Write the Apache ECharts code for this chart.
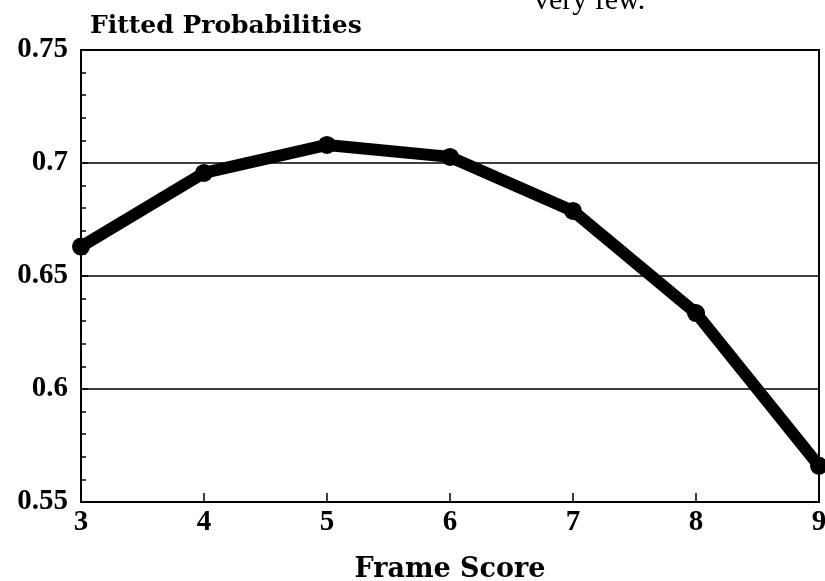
<!DOCTYPE html>
<html>
<head>
<meta charset="utf-8">
<script src="https://cdn.jsdelivr.net/npm/echarts@6/dist/echarts.min.js"></script>
<style>
    html, body { margin: 0; padding: 0; background: #fff; }
    #chart { width: 825px; height: 581px; }
</style>
</head>
<body>
<div id="chart"></div>
<script>
    // frame score vs fitted probability
    const frameScores = [3, 4, 5, 6, 7, 8, 9];
    const fittedProbs = [0.663, 0.6956, 0.708, 0.7027, 0.6788, 0.6336, 0.566];
    const yTicks = [0.55, 0.6, 0.65, 0.7, 0.75];

    const serif = '"Liberation Serif", "DejaVu Serif", serif';
    const wideSerif = '"DejaVu Serif", "Liberation Serif", serif';

    let option = {
        animation: false,
        backgroundColor: '#fff',
        grid: {
            left: 81,
            right: 6,
            top: 50,
            bottom: 79,
            outerBoundsMode: 'none',
            show: true,
            borderColor: '#000',
            borderWidth: 2
        },
        title: {
            text: 'Fitted Probabilities',
            left: 85,
            top: 9,
            textStyle: {
                fontFamily: wideSerif,
                fontWeight: 'bold',
                fontSize: 25,
                color: '#000'
            }
        },
        graphic: [
            {
                type: 'text',
                left: 534,
                top: -14,
                style: {
                    text: 'very few.',
                    font: '30px ' + serif,
                    fill: '#000'
                }
            }
        ],
        xAxis: {
            type: 'value',
            min: 3,
            max: 9,
            interval: 1,
            name: 'Frame Score',
            nameLocation: 'middle',
            nameGap: 54,
            nameTextStyle: {
                fontFamily: wideSerif,
                fontWeight: 'bold',
                fontSize: 27,
                color: '#000'
            },
            axisLine: { lineStyle: { color: '#000', width: 2 } },
            axisTick: { inside: true, length: 9, lineStyle: { color: '#000', width: 1.5 } },
            axisLabel: {
                margin: 6,
                fontFamily: serif,
                fontWeight: 'bold',
                fontSize: 29,
                color: '#000'
            },
            splitLine: { show: false }
        },
        yAxis: {
            type: 'value',
            min: yTicks[0],
            max: yTicks[yTicks.length - 1],
            interval: 0.05,
            axisLine: { show: true, lineStyle: { color: '#000', width: 2 } },
            axisTick: { inside: true, length: 7, lineStyle: { color: '#000', width: 1.5 } },
            minorTick: { show: true, splitNumber: 5, length: 5, lineStyle: { color: '#000', width: 1.5 } },
            axisLabel: {
                margin: 13,
                fontFamily: serif,
                fontWeight: 'bold',
                fontSize: 29,
                color: '#000',
                formatter: v => String(+v.toFixed(2))
            },
            splitLine: { show: true, lineStyle: { color: '#000', width: 1.5 } }
        },
        series: [
            {
                type: 'line',
                data: frameScores.map((x, i) => [x, fittedProbs[i]]),
                symbol: 'circle',
                symbolSize: 18,
                showSymbol: true,
                itemStyle: { color: '#000' },
                lineStyle: { color: '#000', width: 12 },
                clip: false
            }
        ]
    };

    let chart = echarts.init(document.getElementById('chart'));
    chart.setOption(option);
</script>
</body>
</html>
